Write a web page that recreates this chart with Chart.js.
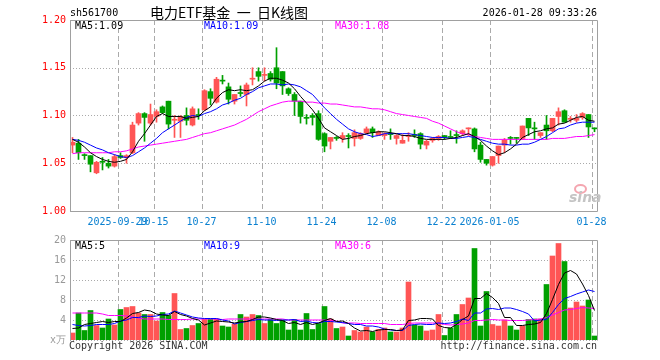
<!DOCTYPE html>
<html>
<head>
<meta charset="utf-8">
<script src="https://cdn.jsdelivr.net/npm/chart.js@4.4.1/dist/chart.umd.min.js"></script>
<style>
  body { margin: 0; background: #fff; width: 660px; height: 360px; position: relative; overflow: hidden; }
  canvas { position: absolute; left: 0; }
  .t { position: absolute; white-space: pre; font: 10px/12px "DejaVu Sans Mono", monospace; color: #000; }
  .cn { font: 14px/16px "Noto Sans CJK SC", sans-serif; }
  .blue { color: #0000ff; }
  .mag { color: #ff00ff; }
  .logo { position: absolute; left: 569px; top: 190px; font: italic bold 14px/14px "DejaVu Sans", sans-serif; color: #c4c4c4; }
  .eye { position: absolute; left: 574px; top: 184px; width: 9px; height: 6px; border: 2px solid #f4a6b0; border-radius: 50%; }
</style>
</head>
<body>
<canvas id="kChart" style="top:0" width="660" height="235"></canvas>
<canvas id="volChart" style="top:230px" width="660" height="130"></canvas>

<div class="t" style="left:70px;top:7px">sh561700</div>
<div class="t cn" style="left:150px;top:4px">电力ETF基金  一  日K线图</div>
<div class="t" style="right:63px;top:7px">2026-01-28 09:33:26</div>

<div class="t" style="left:75px;top:20px">MA5:1.09</div>
<div class="t blue" style="left:204px;top:20px">MA10:1.09</div>
<div class="t mag" style="left:335px;top:20px">MA30:1.08</div>

<div class="t" style="left:75px;top:240px">MA5:5</div>
<div class="t blue" style="left:204px;top:240px">MA10:9</div>
<div class="t mag" style="left:335px;top:240px">MA30:6</div>

<div class="t" style="left:69px;top:340px;color:#333">Copyright 2026 SINA.COM</div>
<div class="t" style="right:63px;top:340px;color:#333">http://finance.sina.com.cn</div>

<div class="eye"></div>
<div class="logo">sina</div>

<script>
/* DATA */
const dates = [
  "2025-09-17","2025-09-18","2025-09-19","2025-09-22","2025-09-23","2025-09-24","2025-09-25","2025-09-26","2025-09-29","2025-09-30",
  "2025-10-09","2025-10-10","2025-10-13","2025-10-14","2025-10-15","2025-10-16","2025-10-17","2025-10-20","2025-10-21","2025-10-22",
  "2025-10-23","2025-10-24","2025-10-27","2025-10-28","2025-10-29","2025-10-30","2025-10-31","2025-11-03","2025-11-04","2025-11-05",
  "2025-11-06","2025-11-07","2025-11-10","2025-11-11","2025-11-12","2025-11-13","2025-11-14","2025-11-17","2025-11-18","2025-11-19",
  "2025-11-20","2025-11-21","2025-11-24","2025-11-25","2025-11-26","2025-11-27","2025-11-28","2025-12-01","2025-12-02","2025-12-03",
  "2025-12-04","2025-12-05","2025-12-08","2025-12-09","2025-12-10","2025-12-11","2025-12-12","2025-12-15","2025-12-16","2025-12-17",
  "2025-12-18","2025-12-19","2025-12-22","2025-12-23","2025-12-24","2025-12-25","2025-12-26","2025-12-29","2025-12-30","2025-12-31",
  "2026-01-05","2026-01-06","2026-01-07","2026-01-08","2026-01-09","2026-01-12","2026-01-13","2026-01-14","2026-01-15","2026-01-16",
  "2026-01-19","2026-01-20","2026-01-21","2026-01-22","2026-01-23","2026-01-26","2026-01-27","2026-01-28"
];

const tickDates = ["2025-09-29","2025-10-15","2025-10-27","2025-11-10","2025-11-24","2025-12-08","2025-12-22","2026-01-05","2026-01-28"];
const tickText = ["2025-09-29","10-15","10-27","11-10","11-24","12-08","12-22","2026-01-05","01-28"];

const open = [
  1.069,1.071,1.059,1.058,1.040,1.052,1.050,1.047,1.058,1.056,
  1.061,1.092,1.102,1.092,1.099,1.109,1.115,1.095,1.094,1.100,
  1.090,1.101,1.106,1.125,1.114,1.137,1.130,1.115,1.124,1.122,
  1.138,1.146,1.142,1.144,1.150,1.146,1.128,1.122,1.115,1.098,
  1.100,1.102,1.081,1.073,1.077,1.076,1.079,1.076,1.076,1.082,
  1.086,1.079,1.079,1.081,1.076,1.071,1.078,1.080,1.081,1.069,
  1.074,1.076,1.079,1.078,1.080,1.081,1.086,1.086,1.069,1.054,
  1.048,1.058,1.069,1.077,1.077,1.076,1.097,1.087,1.079,1.090,
  1.084,1.099,1.105,1.096,1.095,1.098,1.101,1.087
];
const high = [
  1.077,1.075,1.060,1.058,1.052,1.056,1.054,1.059,1.061,1.059,
  1.093,1.103,1.103,1.112,1.106,1.110,1.115,1.100,1.100,1.108,
  1.109,1.107,1.127,1.128,1.140,1.142,1.134,1.122,1.131,1.134,
  1.150,1.150,1.150,1.146,1.171,1.146,1.129,1.124,1.115,1.101,
  1.102,1.105,1.082,1.077,1.078,1.082,1.081,1.085,1.082,1.088,
  1.088,1.084,1.082,1.086,1.080,1.080,1.082,1.085,1.082,1.074,
  1.077,1.079,1.079,1.084,1.084,1.085,1.087,1.087,1.072,1.054,
  1.057,1.068,1.076,1.078,1.077,1.089,1.097,1.093,1.082,1.100,
  1.097,1.108,1.106,1.099,1.101,1.103,1.101,1.087
];
const low = [
  1.061,1.054,1.054,1.041,1.039,1.043,1.045,1.046,1.055,1.050,
  1.060,1.090,1.073,1.090,1.093,1.102,1.086,1.077,1.077,1.090,
  1.089,1.096,1.105,1.111,1.113,1.133,1.112,1.112,1.120,1.110,
  1.132,1.136,1.136,1.136,1.128,1.122,1.121,1.100,1.092,1.091,
  1.090,1.074,1.062,1.065,1.074,1.072,1.066,1.068,1.075,1.081,
  1.077,1.079,1.075,1.075,1.070,1.071,1.073,1.077,1.065,1.065,
  1.072,1.074,1.075,1.076,1.071,1.079,1.079,1.062,1.051,1.048,
  1.047,1.050,1.061,1.070,1.071,1.075,1.079,1.075,1.077,1.075,
  1.083,1.090,1.093,1.093,1.093,1.096,1.077,1.083
];
const close = [
  1.072,1.061,1.058,1.049,1.051,1.051,1.047,1.057,1.056,1.058,
  1.090,1.102,1.098,1.101,1.104,1.103,1.091,1.096,1.099,1.095,
  1.107,1.100,1.126,1.118,1.138,1.136,1.117,1.122,1.123,1.132,
  1.139,1.141,1.143,1.138,1.134,1.131,1.123,1.115,1.099,1.097,
  1.098,1.075,1.068,1.077,1.076,1.079,1.078,1.082,1.081,1.086,
  1.082,1.083,1.081,1.080,1.079,1.074,1.079,1.079,1.070,1.073,
  1.076,1.078,1.077,1.077,1.079,1.084,1.087,1.065,1.054,1.050,
  1.057,1.068,1.074,1.076,1.076,1.089,1.087,1.086,1.082,1.084,
  1.097,1.104,1.093,1.097,1.097,1.102,1.088,1.086
];

const ma5 = [
  1.075,1.072,1.067,1.061,1.057,1.054,1.052,1.051,1.052,1.054,
  1.062,1.073,1.081,1.090,1.099,1.102,1.099,1.099,1.099,1.097,
  1.098,1.099,1.105,1.109,1.118,1.124,1.127,1.126,1.127,1.126,
  1.127,1.131,1.136,1.139,1.139,1.137,1.134,1.128,1.120,1.113,
  1.106,1.097,1.087,1.083,1.079,1.075,1.076,1.078,1.079,1.081,
  1.082,1.083,1.083,1.082,1.081,1.079,1.079,1.078,1.076,1.075,
  1.075,1.075,1.075,1.076,1.077,1.079,1.081,1.078,1.074,1.068,
  1.063,1.059,1.061,1.065,1.070,1.077,1.080,1.083,1.084,1.086,
  1.087,1.091,1.092,1.095,1.098,1.099,1.095,1.094
];
const ma10 = [
  1.075,1.074,1.072,1.069,1.066,1.064,1.061,1.059,1.057,1.056,
  1.058,1.062,1.066,1.071,1.076,1.082,1.086,1.090,1.094,1.098,
  1.100,1.099,1.102,1.104,1.107,1.111,1.113,1.116,1.118,1.122,
  1.125,1.129,1.131,1.133,1.133,1.132,1.133,1.132,1.130,1.126,
  1.122,1.115,1.108,1.102,1.096,1.091,1.086,1.083,1.081,1.080,
  1.078,1.079,1.081,1.081,1.081,1.081,1.081,1.080,1.079,1.078,
  1.077,1.077,1.077,1.076,1.076,1.077,1.078,1.077,1.075,1.073,
  1.071,1.070,1.070,1.069,1.069,1.070,1.070,1.072,1.075,1.078,
  1.082,1.086,1.087,1.090,1.092,1.093,1.093,1.093
];
const ma30 = [
  1.060,1.061,1.061,1.061,1.061,1.061,1.061,1.062,1.062,1.063,
  1.065,1.067,1.068,1.069,1.070,1.071,1.072,1.073,1.074,1.075,
  1.077,1.079,1.081,1.082,1.084,1.086,1.088,1.090,1.093,1.096,
  1.100,1.104,1.107,1.110,1.112,1.114,1.115,1.115,1.115,1.114,
  1.114,1.113,1.113,1.112,1.112,1.111,1.110,1.109,1.109,1.108,
  1.107,1.107,1.106,1.104,1.102,1.101,1.100,1.099,1.098,1.097,
  1.094,1.092,1.089,1.086,1.083,1.081,1.080,1.078,1.077,1.076,
  1.075,1.075,1.075,1.075,1.075,1.075,1.075,1.075,1.075,1.075,
  1.076,1.076,1.076,1.077,1.078,1.078,1.079,1.080
];

/* volume, 万 */
const volume = [
  1.4,5.4,1.9,5.9,2.9,2.4,4.2,3.0,6.1,6.5,
  6.7,5.4,5.1,5.1,3.8,5.5,4.9,9.3,2.1,2.3,
  2.9,3.3,4.2,4.2,4.2,2.8,2.6,3.2,5.1,4.6,
  5.1,4.9,3.3,4.1,3.3,4.0,2.0,4.1,2.0,5.3,
  2.1,3.3,6.7,4.2,2.3,2.6,0.8,1.9,1.6,2.6,
  1.6,2.1,2.4,1.6,1.6,2.4,11.6,3.0,2.8,1.8,
  2.0,5.1,0.9,2.4,5.1,7.1,8.4,18.3,2.8,9.7,
  3.1,2.8,4.0,2.8,2.0,2.8,4.1,4.2,4.2,11.1,
  16.8,19.3,15.7,6.4,7.6,6.8,8.0,0.8
];
const volMa5 = [
  2.3,2.4,3.1,3.3,3.5,3.7,3.5,3.7,3.7,4.4,
  5.3,5.5,6.0,5.8,5.2,5.0,4.9,5.7,5.1,4.8,
  4.3,4.0,3.0,3.4,3.8,3.7,3.6,3.4,3.6,3.7,
  4.1,4.6,4.6,4.4,4.1,3.9,3.3,3.5,3.1,3.5,
  3.1,3.4,3.9,4.3,3.7,3.8,3.3,2.4,1.8,1.9,
  1.7,2.0,2.1,2.1,1.9,2.0,3.9,4.0,4.3,4.3,
  4.2,2.9,2.5,2.4,3.1,4.1,4.8,8.3,8.3,9.3,
  8.5,7.3,4.5,4.5,2.9,2.9,3.1,3.2,3.5,5.3,
  8.1,11.1,13.4,13.9,13.2,11.2,8.9,5.9
];
const volMa10 = [
  3.1,2.9,2.8,2.9,3.1,3.1,3.1,3.3,3.8,4.0,
  4.5,4.5,4.8,4.7,4.8,5.1,5.2,5.8,5.4,5.0,
  4.6,4.4,4.3,4.3,4.3,4.0,3.8,3.2,3.5,3.7,
  3.9,4.1,4.0,4.0,3.9,4.0,4.0,4.1,3.7,3.8,
  3.5,3.4,3.7,3.7,3.6,3.5,3.3,3.1,3.1,2.8,
  2.8,2.6,2.2,2.0,1.9,1.9,2.9,3.1,3.2,3.1,
  3.1,3.4,3.3,3.4,3.7,4.2,3.9,5.4,5.4,6.2,
  6.3,6.1,6.4,6.4,6.1,5.7,5.2,3.8,4.0,4.1,
  5.5,7.1,8.3,8.7,9.2,9.6,10.0,9.7
];
const volMa30 = [
  5.4,5.4,5.4,5.4,5.4,5.2,4.9,4.9,4.9,4.8,
  4.6,4.4,4.2,4.2,4.2,4.2,4.1,4.1,4.1,4.1,
  4.2,4.2,4.2,4.2,4.2,4.1,4.2,4.2,4.2,4.2,
  4.2,4.2,4.2,4.2,4.2,4.2,4.0,4.0,4.0,4.0,
  4.0,4.0,4.0,4.0,3.8,3.4,3.4,3.4,3.3,3.3,
  3.3,3.3,3.3,3.1,3.1,3.1,3.3,3.4,3.4,3.4,
  3.4,3.4,3.1,3.0,3.1,3.2,3.4,3.9,3.9,4.0,
  4.1,4.0,4.0,3.9,3.9,3.9,4.0,4.1,4.2,4.5,
  5.0,5.5,6.0,6.1,6.3,6.5,6.4,6.3
];

const priceTicks = [1.00, 1.05, 1.10, 1.15, 1.20];
const volTicks = [0, 4, 8, 12, 16, 20];

/* COMMON */
const RED = "#ff5555";
const GREEN = "#00a000";
const GRID = "#aaaaaa";
const FONT = { family: "DejaVu Sans Mono", size: 10 };

const tickIdx = tickDates.map(d => dates.indexOf(d));
const candleColors = close.map((c, i) => (c >= open[i] ? RED : GREEN));
// each day owns a 1-unit slot, the mark sits in its middle
const xOf = i => i + 0.5;
const pts = arr => arr.map((v, i) => ({ x: xOf(i), y: v }));

const maLine = (label, arr, color, order) => ({
  type: "line",
  label,
  data: pts(arr),
  borderColor: color,
  borderWidth: 1,
  pointRadius: 0,
  tension: 0,
  order
});

// dashed date lines and dotted value lines, placed from the scales' own ticks
const gridPlugin = {
  id: "sinaGrid",
  beforeDatasetsDraw(chart) {
    const { ctx, chartArea: a, scales } = chart;
    ctx.save();
    ctx.strokeStyle = GRID;
    ctx.lineWidth = 1;
    ctx.setLineDash([5, 3]);
    scales.x.ticks.forEach(t => {
      const px = Math.round(scales.x.getPixelForValue(t.value) + 0.01) + 0.5;
      ctx.beginPath();
      ctx.moveTo(px, a.top);
      ctx.lineTo(px, a.bottom);
      ctx.stroke();
    });
    ctx.setLineDash([1, 2]);
    scales.y.ticks.forEach(t => {
      const py = Math.round(scales.y.getPixelForValue(t.value)) + 0.5;
      ctx.beginPath();
      ctx.moveTo(a.left, py);
      ctx.lineTo(a.right, py);
      ctx.stroke();
    });
    ctx.restore();
  }
};

const framePlugin = {
  id: "frame",
  afterDraw(chart) {
    const { ctx, chartArea: a } = chart;
    const noBottom = chart.options.plugins.frame && chart.options.plugins.frame.noBottom;
    ctx.save();
    ctx.strokeStyle = "#a0a0a0";
    ctx.lineWidth = 1;
    ctx.beginPath();
    ctx.moveTo(a.left + 0.5, a.bottom + 0.5);
    ctx.lineTo(a.left + 0.5, a.top + 0.5);
    ctx.lineTo(a.right - 0.5, a.top + 0.5);
    ctx.lineTo(a.right - 0.5, a.bottom + 0.5);
    if (!noBottom) ctx.lineTo(a.left + 0.5, a.bottom + 0.5);
    ctx.stroke();
    ctx.restore();
  }
};

const xScale = (showLabels, height) => ({
  type: "linear",
  offset: false,
  min: 1 / 12,
  max: dates.length + 1 / 12,
  afterBuildTicks: s => { s.ticks = tickIdx.map(v => ({ value: v })); },
  afterFit: s => { s.height = height; },
  grid: { display: false, drawTicks: false, offset: false },
  border: { display: false },
  ticks: {
    display: showLabels,
    autoSkip: false,
    maxRotation: 0,
    minRotation: 0,
    padding: 5,
    color: "#0a80d0",
    font: FONT,
    callback: v => tickText[tickIdx.indexOf(v)]
  }
});

const yScale = (min, max, ticks, color, fmt) => ({
  min,
  max,
  afterBuildTicks: s => { s.ticks = ticks.map(v => ({ value: v })); },
  afterFit: s => { s.width = 70; },
  grid: { display: false, drawTicks: false },
  border: { display: false },
  ticks: { color, font: FONT, padding: 4, callback: fmt }
});

/* PRICE */
new Chart(document.getElementById("kChart"), {
  type: "bar",
  data: {
    datasets: [
      maLine("MA5", ma5, "#000000", 0),
      maLine("MA10", ma10, "#0000ff", 1),
      maLine("MA30", ma30, "#ff00ff", 2),
      {
        label: "body",
        data: open.map((o, i) => ({ x: xOf(i), y: [o, close[i]] })),
        backgroundColor: candleColors,
        barThickness: 5,
        minBarLength: 1,
        grouped: false,
        order: 3
      },
      {
        label: "wick",
        data: low.map((l, i) => ({ x: xOf(i), y: [l, high[i]] })),
        backgroundColor: candleColors,
        barThickness: 1,
        grouped: false,
        order: 4
      }
    ]
  },
  options: {
    responsive: false,
    animation: false,
    layout: { padding: { top: 20, right: 62, left: 0, bottom: 0 } },
    plugins: { legend: { display: false }, tooltip: { enabled: false }, frame: {} },
    scales: {
      x: xScale(true, 24),
      y: yScale(1.0, 1.2, priceTicks, "#ff0000", v => v.toFixed(2))
    }
  },
  plugins: [gridPlugin, framePlugin]
});

/* VOLUME */
new Chart(document.getElementById("volChart"), {
  type: "bar",
  data: {
    datasets: [
      maLine("MA5", volMa5, "#000000", 0),
      maLine("MA10", volMa10, "#0000ff", 1),
      maLine("MA30", volMa30, "#ff00ff", 2),
      {
        label: "volume",
        data: pts(volume),
        backgroundColor: candleColors,
        barThickness: 5,
        grouped: false,
        order: 3
      }
    ]
  },
  options: {
    responsive: false,
    animation: false,
    layout: { padding: { top: 10, right: 62, left: 0, bottom: 20 } },
    plugins: { legend: { display: false }, tooltip: { enabled: false }, frame: { noBottom: true } },
    scales: {
      x: xScale(false, 0),
      y: yScale(0, 20, volTicks, "#999999", v => (v === 0 ? "x万" : v))
    }
  },
  plugins: [gridPlugin, framePlugin]
});
</script>
</body>
</html>
